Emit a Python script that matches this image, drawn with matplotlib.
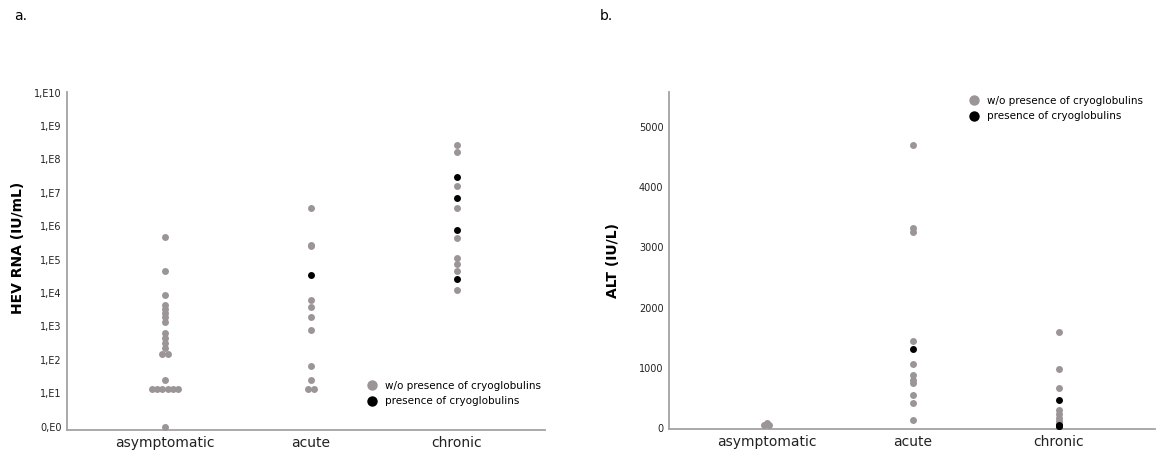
import numpy as np
import matplotlib.pyplot as plt
from matplotlib.lines import Line2D
from matplotlib.ticker import NullLocator

groups = ['asymptomatic', 'acute', 'chronic']

# HEV RNA (IU/mL), panel a
hev_asym = [480000, 45000, 9000, 4500, 3400, 2500, 1900, 1400, 630, 450, 320, 220,
            150, 150, 25, 13, 13, 13, 13, 13, 13, 1]
hev_acute = [3400000, 280000, 250000, 6300, 3700, 1900, 760, 66, 25, 13, 13]
hev_acute_cryo = [34000]
hev_chronic = [2.75e8, 1.7e8, 1.55e7, 3.4e6, 4.6e5, 1.15e5, 7.6e4, 4.6e4, 1.2e4]
hev_chronic_cryo = [3.0e7, 6.8e6, 7.8e5, 2.7e4]

# ALT (IU/L), panel b
alt_asym = [90, 55, 55]
alt_acute = [4700, 3320, 3250, 1450, 1060, 880, 800, 740, 550, 420, 130]
alt_acute_cryo = [1310]
alt_chronic = [1600, 980, 670, 300, 230, 160, 110, 80, 60]
alt_chronic_cryo = [465, 50, 35, 25]

hev_ticks = [10**k for k in range(11)]
hev_ticklabels = ['0,E0'] + ['1,E%d' % k for k in range(1, 11)]
alt_ticks = [0, 1000, 2000, 3000, 4000, 5000]

GREY = '#9b9597'
BLACK = '#000000'
SPINE = '#a3a3a3'


def dot_x(vals, center, step=0.035):
    # spread identical values side by side, like a dot plot
    vals = np.asarray(vals, float)
    xs = np.full(len(vals), float(center))
    for v in np.unique(vals):
        idx = np.where(vals == v)[0]
        xs[idx] = center + (np.arange(len(idx)) - (len(idx) - 1) / 2) * step
    return xs


def style(ax):
    for s in ['top', 'right']:
        ax.spines[s].set_visible(False)
    for s in ['left', 'bottom']:
        ax.spines[s].set_color(SPINE)
        ax.spines[s].set_linewidth(1.3)
    ax.tick_params(axis='y', length=0, pad=4, labelsize=7, labelcolor='#222222')
    ax.tick_params(axis='x', length=0, pad=4, labelsize=10, labelcolor='#222222')
    ax.set_xticks(range(len(groups)))
    ax.set_xticklabels(groups)


fig = plt.figure(figsize=(11.58, 4.54), dpi=100)

# ---- panel a ----
axa = fig.add_axes([0.0579, 0.0529, 0.4128, 0.7445])
grey_sets = [hev_asym, hev_acute, hev_chronic]
black_sets = [[], hev_acute_cryo, hev_chronic_cryo]
for i in range(3):
    axa.scatter(dot_x(grey_sets[i], i), grey_sets[i], s=25, color=GREY, lw=0, zorder=3)
    if black_sets[i]:
        axa.scatter(dot_x(black_sets[i], i), black_sets[i], s=25, color=BLACK, lw=0, zorder=4)
axa.set_yscale('log')
axa.set_ylim(10**-0.1, 10**10.02)
axa.set_xlim(-0.671, 2.603)
axa.set_yticks(hev_ticks)
axa.set_yticklabels(hev_ticklabels)
axa.yaxis.set_minor_locator(NullLocator())
style(axa)
axa.set_ylabel('HEV RNA (IU/mL)', fontsize=10, fontweight='bold')
axa.yaxis.set_label_coords(-0.088, 0.54)

# ---- panel b ----
axb = fig.add_axes([0.5777, 0.054, 0.4197, 0.7434])
grey_sets = [alt_asym, alt_acute, alt_chronic]
black_sets = [[], alt_acute_cryo, alt_chronic_cryo]
for i in range(3):
    axb.scatter(dot_x(grey_sets[i], i), grey_sets[i], s=25, color=GREY, lw=0, zorder=3)
    if black_sets[i]:
        axb.scatter(dot_x(black_sets[i], i), black_sets[i], s=25, color=BLACK, lw=0, zorder=4)
axb.set_ylim(-25, 5581)
axb.set_xlim(-0.671, 2.658)
axb.set_yticks(alt_ticks)
style(axb)
axb.set_ylabel('ALT (IU/L)', fontsize=10, fontweight='bold')
axb.yaxis.set_label_coords(-0.101, 0.5)

# legends
handles = [Line2D([], [], ls='', marker='o', ms=7.5, color=GREY, mec='none'),
           Line2D([], [], ls='', marker='o', ms=7.5, color=BLACK, mec='none')]
labels = ['w/o presence of cryoglobulins', 'presence of cryoglobulins']
for x0, y0 in [(368, 381), (970, 96)]:
    fig.legend(handles, labels, loc='upper left',
               bbox_to_anchor=(x0 / 1158, 1 - y0 / 454), bbox_transform=fig.transFigure,
               frameon=False, fontsize=7.5, handlelength=0.8, handletextpad=0.85,
               labelspacing=0.5, borderpad=0, borderaxespad=0)

fig.text(14 / 1158, 1 - 16 / 454, 'a.', fontsize=10, va='center')
fig.text(600 / 1158, 1 - 16 / 454, 'b.', fontsize=10, va='center')

fig.savefig('out.png', dpi=100)
